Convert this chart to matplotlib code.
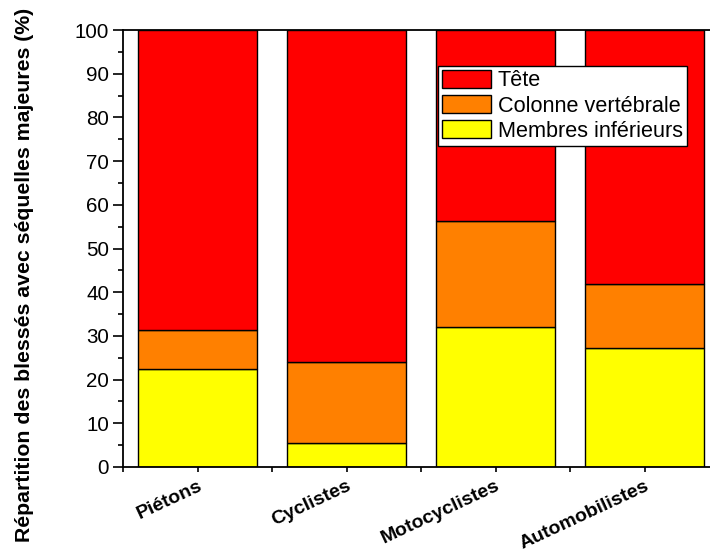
import matplotlib
matplotlib.use('Agg')
import matplotlib.pyplot as plt
from matplotlib.ticker import MultipleLocator, FixedLocator

plt.rcParams['font.family'] = ['Liberation Sans', 'DejaVu Sans']

categories = ['Piétons', 'Cyclistes', 'Motocyclistes', 'Automobilistes']
membres = [22.5, 5.5, 32.1, 27.3]
colonne_top = [31.4, 24.1, 56.3, 41.8]
colonne = [c - m for c, m in zip(colonne_top, membres)]
tete = [100 - c for c in colonne_top]

x = [1, 2, 3, 4]

fig = plt.figure(figsize=(7.10, 5.58), dpi=100)
ax = fig.add_axes([123/710, (558-467)/558, 596/710, 437/558])

w = 0.8
ax.bar(x, membres, w, color='#ffff00', edgecolor='black', lw=1, label='Membres inférieurs')
ax.bar(x, colonne, w, bottom=membres, color='#ff8000', edgecolor='black', lw=1, label='Colonne vertébrale')
ax.bar(x, tete, w, bottom=colonne_top, color='#ff0000', edgecolor='black', lw=1, label='Tête')

ax.set_xlim(0.5, 4.5)
ax.set_ylim(0, 100)
ax.yaxis.set_major_locator(MultipleLocator(10))
ax.yaxis.set_minor_locator(MultipleLocator(5))
ax.xaxis.set_major_locator(FixedLocator(x))
ax.xaxis.set_minor_locator(FixedLocator([0.5, 1.5, 2.5, 3.5]))
ax.set_xticklabels(categories, rotation=25, ha='right', rotation_mode='anchor',
                   fontsize=14, fontweight='bold')
ax.tick_params(axis='y', which='major', direction='out', length=7, width=1.2,
               labelsize=14.8, pad=3)
ax.tick_params(axis='y', which='minor', direction='out', length=3.6, width=1.2)
ax.tick_params(axis='x', which='both', direction='out', length=3.6, width=1.2, pad=4)
for s in ax.spines.values():
    s.set_linewidth(1.3)

fig.text(25/710, 1 - 275/558, 'Répartition des blessés avec séquelles majeures (%)',
         rotation=90, ha='center', va='center', fontsize=15.3, fontweight='bold')

handles, labels = ax.get_legend_handles_labels()
leg = ax.legend(handles[::-1], labels[::-1], loc='upper left',
                bbox_to_anchor=((438-123)/596, (467-66)/437),
                fontsize=15.6, frameon=True, fancybox=False, framealpha=1,
                edgecolor='black', borderpad=0.2, labelspacing=0.18,
                handlelength=2.25, handleheight=0.85, handletextpad=0.3,
                borderaxespad=0)
leg.get_frame().set_linewidth(1)

fig.savefig('out.png', dpi=100)
